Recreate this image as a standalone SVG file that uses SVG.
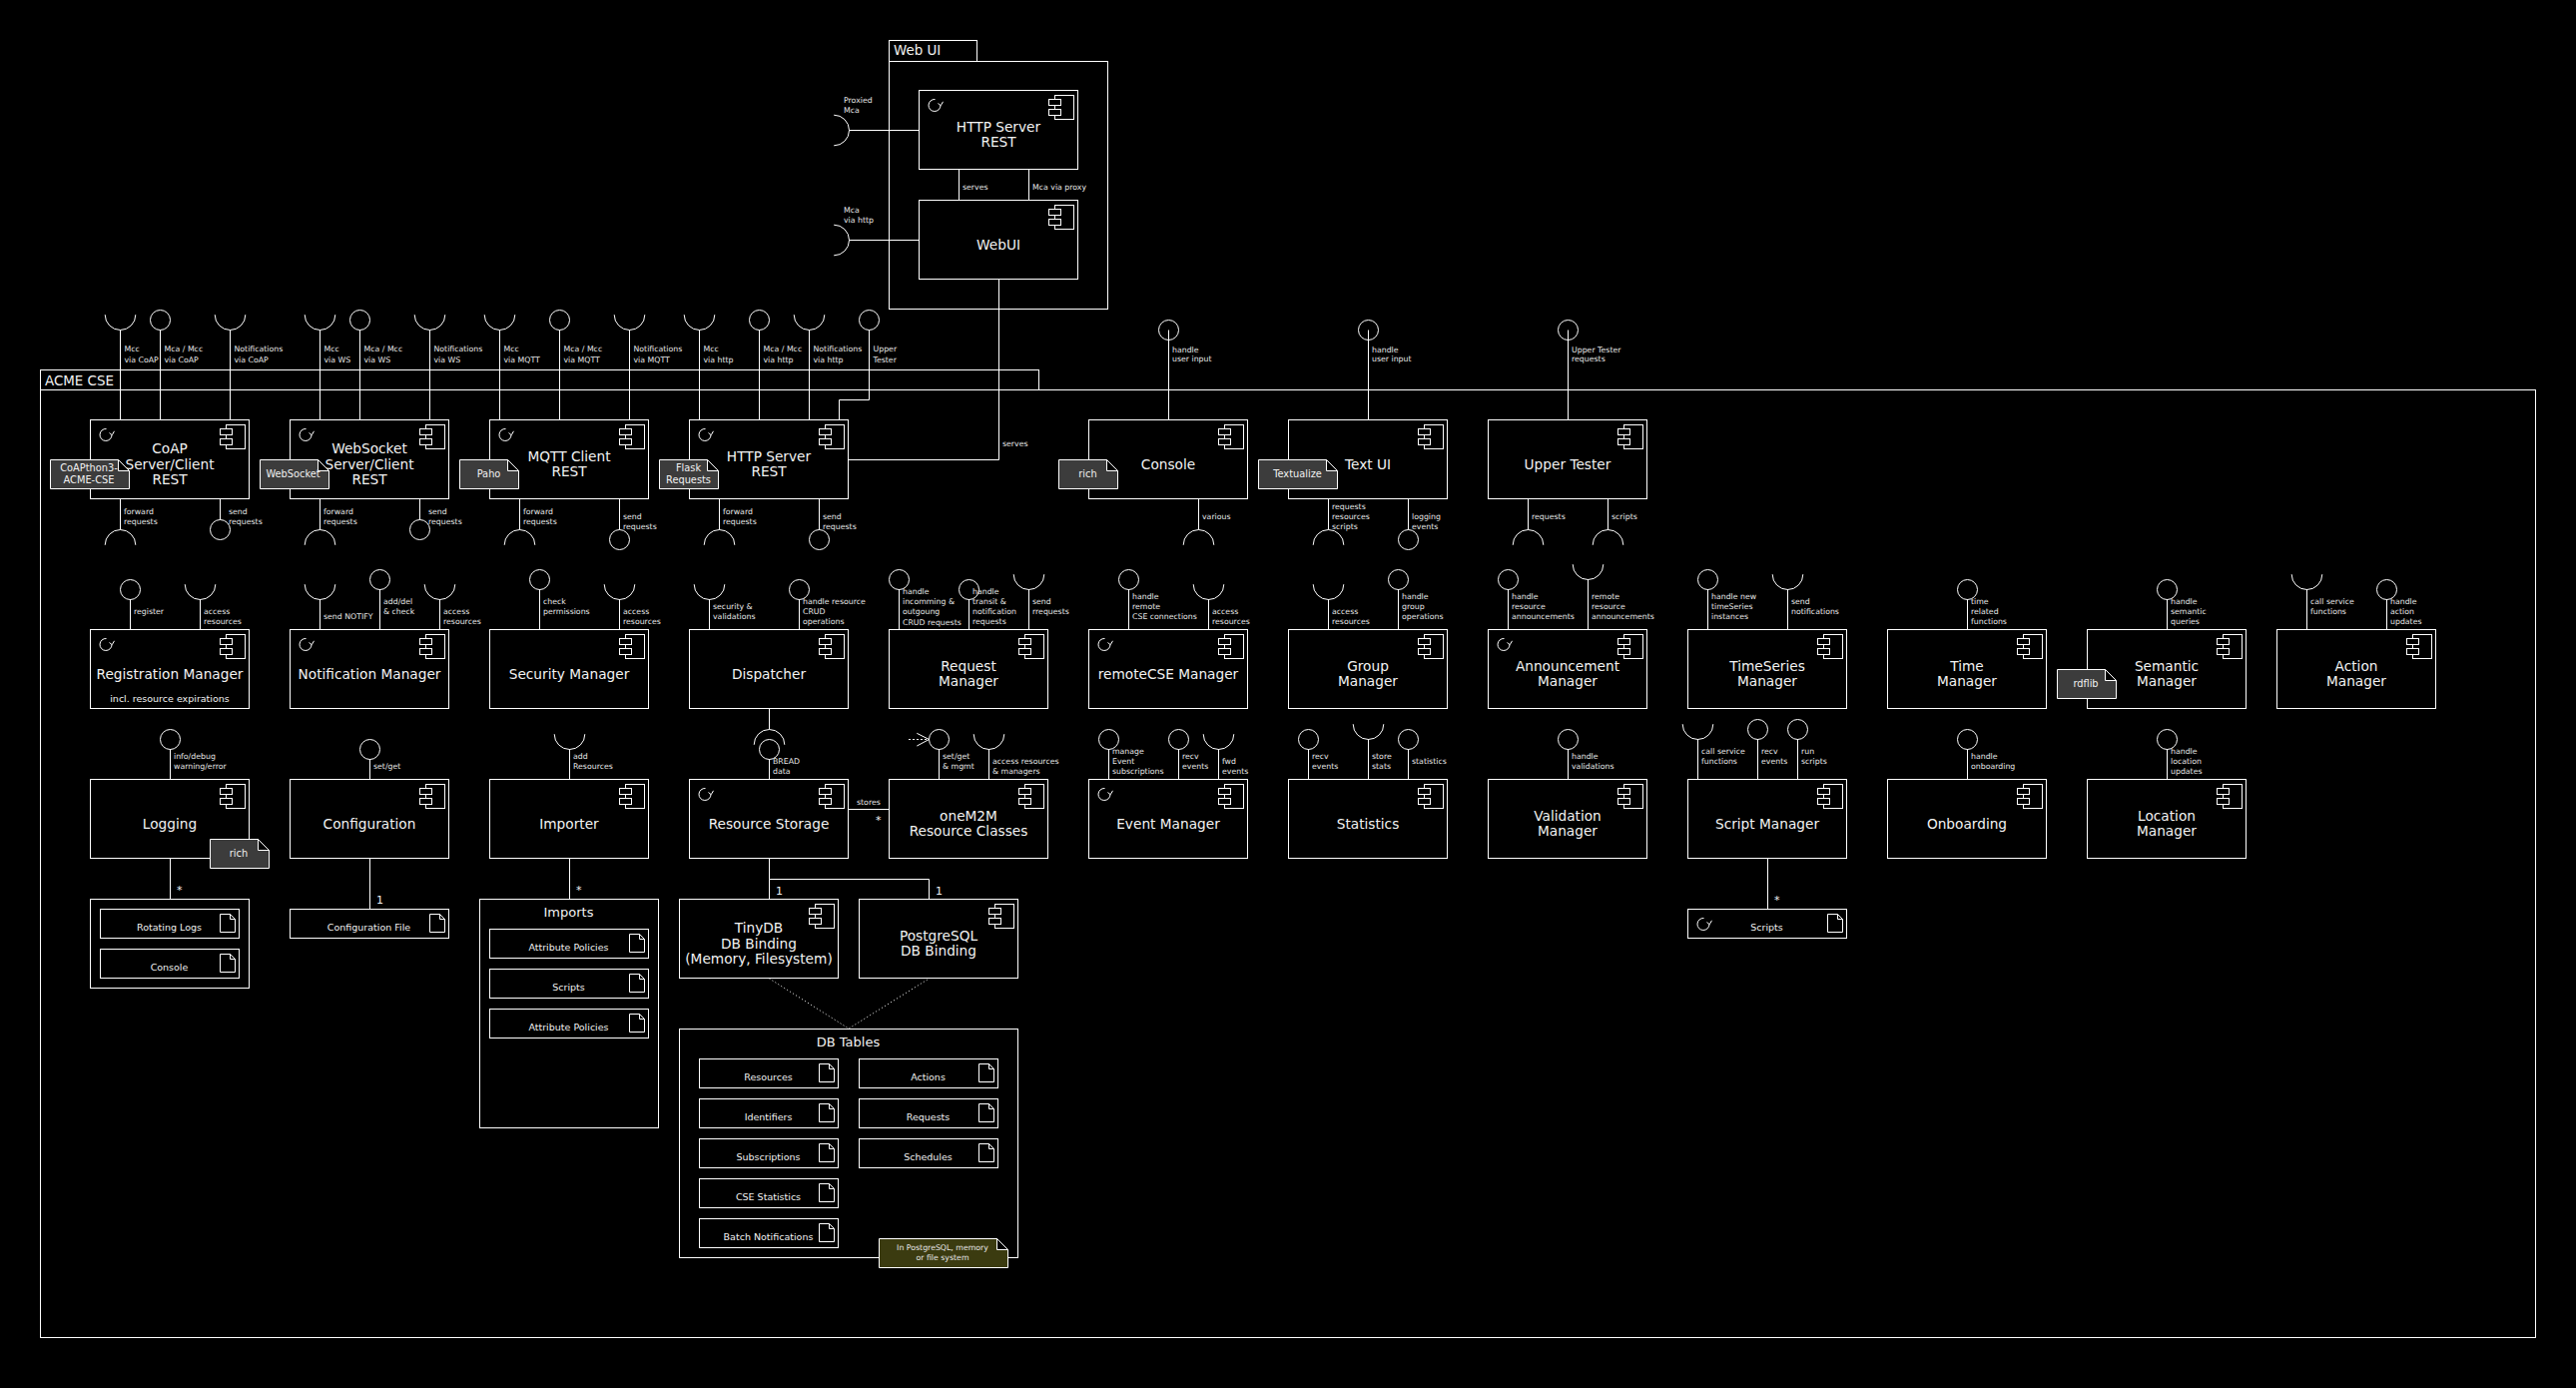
<svg xmlns="http://www.w3.org/2000/svg" width="2580" height="1390" viewBox="0 0 2580 1390">
<style>
text{font-family:"DejaVu Sans","Liberation Sans",sans-serif;fill:#f2f2f2}
.t{font-size:13.7px;text-anchor:middle}
.s{font-size:7.8px;fill:#e6e6e6}
.a{font-size:9.5px;text-anchor:middle}
.n{font-size:9.8px;text-anchor:middle}
.h{font-size:13.4px}
.m{font-size:11px}
.b{fill:#000;stroke:#fff;stroke-width:1}
.f{fill:none;stroke:#fff;stroke-width:1}
.g{fill:#3c3c3c;stroke:#fff;stroke-width:1}
.y{fill:#3b3b10;stroke:#fff;stroke-width:1}
#connectors path,#connectors circle,#connectors use{fill:none;stroke:#fff;stroke-width:1}
</style>
<defs>
<g id="ci"><rect class="b" x="136.5" y="5.5" width="19" height="24"/><rect class="b" x="130.5" y="9.5" width="12" height="6"/><rect class="b" x="130.5" y="19.5" width="12" height="6"/></g>
<g id="lp"><path class="f" d="M16.5 9.5A6 6 0 1 0 22 15.5M19.5 13.5L22.2 15.7L24.5 11.8"/></g>
<g id="doc"><path class="b" d="M120.5 5.5H130.5L135.5 10.5V23.5H120.5ZM130.5 5.5V10.5H135.5"/></g>
<path id="fold" class="b" d="M-11 0V11H0Z"/>
<path id="cup" d="M-15.3 -15.3A15.3 15.3 0 0 0 15.3 -15.3"/>
<path id="cap" d="M-15.3 15.3A15.3 15.3 0 0 1 15.3 15.3"/>
<path id="side" d="M-15.3 -15.3A15.3 15.3 0 0 1 -15.3 15.3"/>
</defs>
<rect width="2580" height="1390" fill="#000"/>
<g id="web-ui-package">
<rect class="f" x="890.5" y="40.5" width="88" height="21"/>
<rect class="f" x="890.5" y="61.5" width="219" height="248"/>
<text class="h" x="895" y="55">Web UI</text>
</g>
<g id="acme-cse-package">
<rect class="f" x="40.5" y="370.5" width="1000" height="20"/>
<rect class="f" x="40.5" y="390.5" width="2499" height="949"/>
<text class="h" x="45" y="386">ACME CSE</text>
</g>
<g id="connectors">
<path d="M850.5 130.5H920M850.5 240.5H920M960.5 170V200M1030.5 170V200M1000.5 280V460.5H850"/>
<use href="#side" x="850.5" y="130.5"/><use href="#side" x="850.5" y="240.5"/>
<path d="M120.5 330.5V420M160.5 330.5V420M230.5 330.5V420M320.5 330.5V420M360.5 330.5V420M430.5 330.5V420M500.5 330.5V420M560.5 330.5V420M630.5 330.5V420M700.5 330.5V420M760.5 330.5V420M810.5 330.5V420M870.5 330.5V400.5H840.5V420M1170.5 330.5V420M1370.5 330.5V420M1570.5 330.5V420"/>
<use href="#cup" x="120.5" y="330.5"/><circle cx="160.5" cy="320.5" r="10"/><use href="#cup" x="230.5" y="330.5"/>
<use href="#cup" x="320.5" y="330.5"/><circle cx="360.5" cy="320.5" r="10"/><use href="#cup" x="430.5" y="330.5"/>
<use href="#cup" x="500.5" y="330.5"/><circle cx="560.5" cy="320.5" r="10"/><use href="#cup" x="630.5" y="330.5"/>
<use href="#cup" x="700.5" y="330.5"/><circle cx="760.5" cy="320.5" r="10"/><use href="#cup" x="810.5" y="330.5"/><circle cx="870.5" cy="320.5" r="10"/>
<circle cx="1170.5" cy="330.5" r="10"/><circle cx="1370.5" cy="330.5" r="10"/><circle cx="1570.5" cy="330.5" r="10"/>
<path d="M120.5 500V530.5M220.5 500V520.5M320.5 500V530.5M420.5 500V520.5M520.5 500V530.5M620.5 500V530.5M720.5 500V530.5M820.5 500V530.5M1200.5 500V530.5M1330.5 500V530.5M1410.5 500V530.5M1530.5 500V530.5M1610.5 500V530.5"/>
<use href="#cap" x="120.5" y="530.5"/><circle cx="220.5" cy="530.5" r="10"/>
<use href="#cap" x="320.5" y="530.5"/><circle cx="420.5" cy="530.5" r="10"/>
<use href="#cap" x="520.5" y="530.5"/><circle cx="620.5" cy="540.5" r="10"/>
<use href="#cap" x="720.5" y="530.5"/><circle cx="820.5" cy="540.5" r="10"/>
<use href="#cap" x="1200.5" y="530.5"/><use href="#cap" x="1330.5" y="530.5"/><circle cx="1410.5" cy="540.5" r="10"/>
<use href="#cap" x="1530.5" y="530.5"/><use href="#cap" x="1610.5" y="530.5"/>
<path d="M130.5 600V630M200.5 600V630M320.5 600V630M380.5 590V630M440.5 600V630M540.5 590V630M620.5 600V630M710.5 600V630M800.5 600V630M900.5 590V630M970.5 600V630M1030.5 590V630M1130.5 590V630M1210.5 600V630M1330.5 600V630M1400.5 590V630M1510.5 590V630M1590.5 580V630M1710.5 590V630M1790.5 590V630M1970.5 600V630M2170.5 600V630M2310.5 590V630M2390.5 600V630"/>
<circle cx="130.5" cy="590.5" r="10"/><use href="#cup" x="200.5" y="600.5"/>
<use href="#cup" x="320.5" y="600.5"/><circle cx="380.5" cy="580.5" r="10"/><use href="#cup" x="440.5" y="600.5"/>
<circle cx="540.5" cy="580.5" r="10"/><use href="#cup" x="620.5" y="600.5"/>
<use href="#cup" x="710.5" y="600.5"/><circle cx="800.5" cy="590.5" r="10"/>
<circle cx="900.5" cy="580.5" r="10"/><circle cx="970.5" cy="590.5" r="10"/><use href="#cup" x="1030.5" y="590.5"/>
<circle cx="1130.5" cy="580.5" r="10"/><use href="#cup" x="1210.5" y="600.5"/>
<use href="#cup" x="1330.5" y="600.5"/><circle cx="1400.5" cy="580.5" r="10"/>
<circle cx="1510.5" cy="580.5" r="10"/><use href="#cup" x="1590.5" y="580.5"/>
<circle cx="1710.5" cy="580.5" r="10"/><use href="#cup" x="1790.5" y="590.5"/>
<circle cx="1970.5" cy="590.5" r="10"/><circle cx="2170.5" cy="590.5" r="10"/>
<use href="#cup" x="2310.5" y="590.5"/><circle cx="2390.5" cy="590.5" r="10"/>
<path d="M770.5 710V730.5M770.5 760V780M850 810.5H890"/>
<use href="#cap" x="770.5" y="730.5"/><circle cx="770.5" cy="750.5" r="10"/>
<path d="M170.5 750V780M370.5 760V780M570.5 750V780M940.5 750V780M990.5 750V780M1110.5 750V780M1180.5 750V780M1220.5 750V780M1310.5 750V780M1370.5 740V780M1410.5 750V780M1570.5 750V780M1700.5 740V780M1760.5 740V780M1800.5 740V780M1970.5 750V780M2170.5 750V780"/>
<circle cx="170.5" cy="740.5" r="10"/><circle cx="370.5" cy="750.5" r="10"/><use href="#cup" x="570.5" y="750.5"/>
<circle cx="940.5" cy="740.5" r="10"/><use href="#cup" x="990.5" y="750.5"/>
<path d="M910 740.5H930" stroke-dasharray="2 2"/><path d="M918.3 734.3L930.5 740.5L918.3 747"/>
<circle cx="1110.5" cy="740.5" r="10"/><circle cx="1180.5" cy="740.5" r="10"/><use href="#cup" x="1220.5" y="750.5"/>
<circle cx="1310.5" cy="740.5" r="10"/><use href="#cup" x="1370.5" y="740.5"/><circle cx="1410.5" cy="740.5" r="10"/>
<circle cx="1570.5" cy="740.5" r="10"/>
<use href="#cup" x="1700.5" y="740.5"/><circle cx="1760.5" cy="730.5" r="10"/><circle cx="1800.5" cy="730.5" r="10"/>
<circle cx="1970.5" cy="740.5" r="10"/><circle cx="2170.5" cy="740.5" r="10"/>
<path d="M170.5 860V900M370.5 860V910M570.5 860V900M1770.5 860V910M770.5 860V880.5M770.5 900V880.5H930.5V900"/>
<path d="M770.5 980L850 1030L930.5 980" stroke-dasharray="1 2.5"/>
</g>
<g id="connector-labels">
<text class="s" x="845" y="102.5">Proxied<tspan x="845" y="113">Mca</tspan></text>
<text class="s" x="845" y="212.5">Mca<tspan x="845" y="223">via http</tspan></text>
<text class="s" x="964" y="190">serves</text>
<text class="s" x="1034" y="190">Mca via proxy</text>
<text class="s" x="1004" y="447">serves</text>
<text class="s" x="124.5" y="352">Mcc<tspan x="124.5" y="362.5">via CoAP</tspan></text>
<text class="s" x="164.5" y="352">Mca / Mcc<tspan x="164.5" y="362.5">via CoAP</tspan></text>
<text class="s" x="234.5" y="352">Notifications<tspan x="234.5" y="362.5">via CoAP</tspan></text>
<text class="s" x="324.5" y="352">Mcc<tspan x="324.5" y="362.5">via WS</tspan></text>
<text class="s" x="364.5" y="352">Mca / Mcc<tspan x="364.5" y="362.5">via WS</tspan></text>
<text class="s" x="434.5" y="352">Notifications<tspan x="434.5" y="362.5">via WS</tspan></text>
<text class="s" x="504.5" y="352">Mcc<tspan x="504.5" y="362.5">via MQTT</tspan></text>
<text class="s" x="564.5" y="352">Mca / Mcc<tspan x="564.5" y="362.5">via MQTT</tspan></text>
<text class="s" x="634.5" y="352">Notifications<tspan x="634.5" y="362.5">via MQTT</tspan></text>
<text class="s" x="704.5" y="352">Mcc<tspan x="704.5" y="362.5">via http</tspan></text>
<text class="s" x="764.5" y="352">Mca / Mcc<tspan x="764.5" y="362.5">via http</tspan></text>
<text class="s" x="814.5" y="352">Notifications<tspan x="814.5" y="362.5">via http</tspan></text>
<text class="s" x="874.5" y="352">Upper<tspan x="874.5" y="362.5">Tester</tspan></text>
<text class="s" x="1174" y="353">handle<tspan x="1174" y="361.5">user input</tspan></text>
<text class="s" x="1374" y="353">handle<tspan x="1374" y="361.5">user input</tspan></text>
<text class="s" x="1574" y="353">Upper Tester<tspan x="1574" y="361.5">requests</tspan></text>
<text class="s" x="124" y="515">forward<tspan x="124" y="525">requests</tspan></text>
<text class="s" x="229" y="515">send<tspan x="229" y="525">requests</tspan></text>
<text class="s" x="324" y="515">forward<tspan x="324" y="525">requests</tspan></text>
<text class="s" x="429" y="515">send<tspan x="429" y="525">requests</tspan></text>
<text class="s" x="524" y="515">forward<tspan x="524" y="525">requests</tspan></text>
<text class="s" x="624" y="520">send<tspan x="624" y="530">requests</tspan></text>
<text class="s" x="724" y="515">forward<tspan x="724" y="525">requests</tspan></text>
<text class="s" x="824" y="520">send<tspan x="824" y="530">requests</tspan></text>
<text class="s" x="1204" y="520">various</text>
<text class="s" x="1334" y="510">requests<tspan x="1334" y="520">resources</tspan><tspan x="1334" y="530">scripts</tspan></text>
<text class="s" x="1414" y="520">logging<tspan x="1414" y="530">events</tspan></text>
<text class="s" x="1534" y="520">requests</text>
<text class="s" x="1614" y="520">scripts</text>
<text class="s" x="134" y="615">register</text>
<text class="s" x="204" y="615">access<tspan x="204" y="625">resources</tspan></text>
<text class="s" x="324" y="620">send NOTIFY</text>
<text class="s" x="384" y="605">add/del<tspan x="384" y="615">&amp; check</tspan></text>
<text class="s" x="444" y="615">access<tspan x="444" y="625">resources</tspan></text>
<text class="s" x="544" y="605">check<tspan x="544" y="615">permissions</tspan></text>
<text class="s" x="624" y="615">access<tspan x="624" y="625">resources</tspan></text>
<text class="s" x="714" y="610">security &amp;<tspan x="714" y="620">validations</tspan></text>
<text class="s" x="804" y="605">handle resource<tspan x="804" y="615">CRUD</tspan><tspan x="804" y="625">operations</tspan></text>
<text class="s" x="904" y="595">handle<tspan x="904" y="605">incomming &amp;</tspan><tspan x="904" y="615">outgoung</tspan><tspan x="904" y="625.5">CRUD requests</tspan></text>
<text class="s" x="974" y="595">handle<tspan x="974" y="605">transit &amp;</tspan><tspan x="974" y="615">notification</tspan><tspan x="974" y="625">requests</tspan></text>
<text class="s" x="1034" y="605">send<tspan x="1034" y="615">rrequests</tspan></text>
<text class="s" x="1134" y="600">handle<tspan x="1134" y="610">remote</tspan><tspan x="1134" y="620">CSE connections</tspan></text>
<text class="s" x="1214" y="615">access<tspan x="1214" y="625">resources</tspan></text>
<text class="s" x="1334" y="615">access<tspan x="1334" y="625">resources</tspan></text>
<text class="s" x="1404" y="600">handle<tspan x="1404" y="610">group</tspan><tspan x="1404" y="620">operations</tspan></text>
<text class="s" x="1514" y="600">handle<tspan x="1514" y="610">resource</tspan><tspan x="1514" y="620">announcements</tspan></text>
<text class="s" x="1594" y="600">remote<tspan x="1594" y="610">resource</tspan><tspan x="1594" y="620">announcements</tspan></text>
<text class="s" x="1714" y="600">handle new<tspan x="1714" y="610">timeSeries</tspan><tspan x="1714" y="620">instances</tspan></text>
<text class="s" x="1794" y="605">send<tspan x="1794" y="615">notifications</tspan></text>
<text class="s" x="1974" y="605">time<tspan x="1974" y="615">related</tspan><tspan x="1974" y="625">functions</tspan></text>
<text class="s" x="2174" y="605">handle<tspan x="2174" y="615">semantic</tspan><tspan x="2174" y="625">queries</tspan></text>
<text class="s" x="2314" y="605">call service<tspan x="2314" y="615">functions</tspan></text>
<text class="s" x="2394" y="605">handle<tspan x="2394" y="615">action</tspan><tspan x="2394" y="625">updates</tspan></text>
<text class="s" x="174" y="760">info/debug<tspan x="174" y="770">warning/error</tspan></text>
<text class="s" x="374" y="770">set/get</text>
<text class="s" x="574" y="760">add<tspan x="574" y="770">Resources</tspan></text>
<text class="s" x="774" y="765">BREAD<tspan x="774" y="775">data</tspan></text>
<text class="s" x="858" y="806">stores</text>
<text class="m" x="877" y="825">*</text>
<text class="s" x="944" y="760">set/get<tspan x="944" y="770">&amp; mgmt</tspan></text>
<text class="s" x="994" y="765">access resources<tspan x="994" y="775">&amp; managers</tspan></text>
<text class="s" x="1114" y="755">manage<tspan x="1114" y="765">Event</tspan><tspan x="1114" y="775">subscriptions</tspan></text>
<text class="s" x="1184" y="760">recv<tspan x="1184" y="770">events</tspan></text>
<text class="s" x="1224" y="765">fwd<tspan x="1224" y="775">events</tspan></text>
<text class="s" x="1314" y="760">recv<tspan x="1314" y="770">events</tspan></text>
<text class="s" x="1374" y="760">store<tspan x="1374" y="770">stats</tspan></text>
<text class="s" x="1414" y="765">statistics</text>
<text class="s" x="1574" y="760">handle<tspan x="1574" y="770">validations</tspan></text>
<text class="s" x="1704" y="755">call service<tspan x="1704" y="765">functions</tspan></text>
<text class="s" x="1764" y="755">recv<tspan x="1764" y="765">events</tspan></text>
<text class="s" x="1804" y="755">run<tspan x="1804" y="765">scripts</tspan></text>
<text class="s" x="1974" y="760">handle<tspan x="1974" y="770">onboarding</tspan></text>
<text class="s" x="2174" y="755">handle<tspan x="2174" y="765">location</tspan><tspan x="2174" y="775">updates</tspan></text>
<text class="m" x="177" y="895">*</text>
<text class="m" x="377" y="905">1</text>
<text class="m" x="577" y="895">*</text>
<text class="m" x="1777" y="905">*</text>
<text class="m" x="777" y="896">1</text>
<text class="m" x="937" y="896">1</text>
</g>
<g id="http-server-web"><rect class="b" x="920.5" y="90.5" width="159" height="79"/><use href="#ci" x="920" y="90"/><use href="#lp" x="920" y="90"/><text class="t" x="1000" y="132">HTTP Server<tspan x="1000" y="147">REST</tspan></text></g>
<g id="webui"><rect class="b" x="920.5" y="200.5" width="159" height="79"/><use href="#ci" x="920" y="200"/><text class="t" x="1000" y="250">WebUI</text></g>
<g id="coap"><rect class="b" x="90.5" y="420.5" width="159" height="79"/><use href="#ci" x="90" y="420"/><use href="#lp" x="90" y="420"/><text class="t" x="170" y="454">CoAP<tspan x="170" y="470">Server/Client</tspan><tspan x="170" y="485">REST</tspan></text><polygon class="g" points="50.5,460.5 118.5,460.5 129.5,471.5 129.5,489.5 50.5,489.5"/><use href="#fold" x="129.5" y="460.5"/><text class="n" x="89" y="472">CoAPthon3-<tspan x="89" y="484">ACME-CSE</tspan></text></g>
<g id="websocket"><rect class="b" x="290.5" y="420.5" width="159" height="79"/><use href="#ci" x="290" y="420"/><use href="#lp" x="290" y="420"/><text class="t" x="370" y="454">WebSocket<tspan x="370" y="470">Server/Client</tspan><tspan x="370" y="485">REST</tspan></text><polygon class="g" points="260.5,460.5 318.5,460.5 329.5,471.5 329.5,489.5 260.5,489.5"/><use href="#fold" x="329.5" y="460.5"/><text class="n" x="293.5" y="478">WebSocket</text></g>
<g id="mqtt"><rect class="b" x="490.5" y="420.5" width="159" height="79"/><use href="#ci" x="490" y="420"/><use href="#lp" x="490" y="420"/><text class="t" x="570" y="462">MQTT Client<tspan x="570" y="477">REST</tspan></text><polygon class="g" points="460.5,460.5 508.5,460.5 519.5,471.5 519.5,489.5 460.5,489.5"/><use href="#fold" x="519.5" y="460.5"/><text class="n" x="489.5" y="478">Paho</text></g>
<g id="http-server"><rect class="b" x="690.5" y="420.5" width="159" height="79"/><use href="#ci" x="690" y="420"/><use href="#lp" x="690" y="420"/><text class="t" x="770" y="462">HTTP Server<tspan x="770" y="477">REST</tspan></text><polygon class="g" points="660.5,460.5 708.5,460.5 719.5,471.5 719.5,489.5 660.5,489.5"/><use href="#fold" x="719.5" y="460.5"/><text class="n" x="689.5" y="472">Flask<tspan x="689.5" y="484">Requests</tspan></text></g>
<g id="console"><rect class="b" x="1090.5" y="420.5" width="159" height="79"/><use href="#ci" x="1090" y="420"/><text class="t" x="1170" y="470">Console</text><polygon class="g" points="1060.5,460.5 1108.5,460.5 1119.5,471.5 1119.5,489.5 1060.5,489.5"/><use href="#fold" x="1119.5" y="460.5"/><text class="n" x="1089.5" y="478">rich</text></g>
<g id="text-ui"><rect class="b" x="1290.5" y="420.5" width="159" height="79"/><use href="#ci" x="1290" y="420"/><text class="t" x="1370" y="470">Text UI</text><polygon class="g" points="1260.5,460.5 1328.5,460.5 1339.5,471.5 1339.5,489.5 1260.5,489.5"/><use href="#fold" x="1339.5" y="460.5"/><text class="n" x="1299.5" y="478">Textualize</text></g>
<g id="upper-tester"><rect class="b" x="1490.5" y="420.5" width="159" height="79"/><use href="#ci" x="1490" y="420"/><text class="t" x="1570" y="470">Upper Tester</text></g>
<g id="registration-manager"><rect class="b" x="90.5" y="630.5" width="159" height="79"/><use href="#ci" x="90" y="630"/><use href="#lp" x="90" y="630"/><text class="t" x="170" y="680">Registration Manager</text><text class="a" x="170" y="703">incl. resource expirations</text></g>
<g id="notification-manager"><rect class="b" x="290.5" y="630.5" width="159" height="79"/><use href="#ci" x="290" y="630"/><use href="#lp" x="290" y="630"/><text class="t" x="370" y="680">Notification Manager</text></g>
<g id="security-manager"><rect class="b" x="490.5" y="630.5" width="159" height="79"/><use href="#ci" x="490" y="630"/><text class="t" x="570" y="680">Security Manager</text></g>
<g id="dispatcher"><rect class="b" x="690.5" y="630.5" width="159" height="79"/><use href="#ci" x="690" y="630"/><text class="t" x="770" y="680">Dispatcher</text></g>
<g id="request-manager"><rect class="b" x="890.5" y="630.5" width="159" height="79"/><use href="#ci" x="890" y="630"/><text class="t" x="970" y="672">Request<tspan x="970" y="687">Manager</tspan></text></g>
<g id="remotecse-manager"><rect class="b" x="1090.5" y="630.5" width="159" height="79"/><use href="#ci" x="1090" y="630"/><use href="#lp" x="1090" y="630"/><text class="t" x="1170" y="680">remoteCSE Manager</text></g>
<g id="group-manager"><rect class="b" x="1290.5" y="630.5" width="159" height="79"/><use href="#ci" x="1290" y="630"/><text class="t" x="1370" y="672">Group<tspan x="1370" y="687">Manager</tspan></text></g>
<g id="announcement-manager"><rect class="b" x="1490.5" y="630.5" width="159" height="79"/><use href="#ci" x="1490" y="630"/><use href="#lp" x="1490" y="630"/><text class="t" x="1570" y="672">Announcement<tspan x="1570" y="687">Manager</tspan></text></g>
<g id="timeseries-manager"><rect class="b" x="1690.5" y="630.5" width="159" height="79"/><use href="#ci" x="1690" y="630"/><text class="t" x="1770" y="672">TimeSeries<tspan x="1770" y="687">Manager</tspan></text></g>
<g id="time-manager"><rect class="b" x="1890.5" y="630.5" width="159" height="79"/><use href="#ci" x="1890" y="630"/><text class="t" x="1970" y="672">Time<tspan x="1970" y="687">Manager</tspan></text></g>
<g id="semantic-manager"><rect class="b" x="2090.5" y="630.5" width="159" height="79"/><use href="#ci" x="2090" y="630"/><text class="t" x="2170" y="672">Semantic<tspan x="2170" y="687">Manager</tspan></text><polygon class="g" points="2060.5,670.5 2108.5,670.5 2119.5,681.5 2119.5,699.5 2060.5,699.5"/><use href="#fold" x="2119.5" y="670.5"/><text class="n" x="2089" y="688">rdflib</text></g>
<g id="action-manager"><rect class="b" x="2280.5" y="630.5" width="159" height="79"/><use href="#ci" x="2280" y="630"/><text class="t" x="2360" y="672">Action<tspan x="2360" y="687">Manager</tspan></text></g>
<g id="logging"><rect class="b" x="90.5" y="780.5" width="159" height="79"/><use href="#ci" x="90" y="780"/><text class="t" x="170" y="830">Logging</text><polygon class="g" points="210.5,840.5 258.5,840.5 269.5,851.5 269.5,869.5 210.5,869.5"/><use href="#fold" x="269.5" y="840.5"/><text class="n" x="239" y="858">rich</text></g>
<g id="configuration"><rect class="b" x="290.5" y="780.5" width="159" height="79"/><use href="#ci" x="290" y="780"/><text class="t" x="370" y="830">Configuration</text></g>
<g id="importer"><rect class="b" x="490.5" y="780.5" width="159" height="79"/><use href="#ci" x="490" y="780"/><text class="t" x="570" y="830">Importer</text></g>
<g id="resource-storage"><rect class="b" x="690.5" y="780.5" width="159" height="79"/><use href="#ci" x="690" y="780"/><use href="#lp" x="690" y="780"/><text class="t" x="770" y="830">Resource Storage</text></g>
<g id="onem2m"><rect class="b" x="890.5" y="780.5" width="159" height="79"/><use href="#ci" x="890" y="780"/><text class="t" x="970" y="822">oneM2M<tspan x="970" y="837">Resource Classes</tspan></text></g>
<g id="event-manager"><rect class="b" x="1090.5" y="780.5" width="159" height="79"/><use href="#ci" x="1090" y="780"/><use href="#lp" x="1090" y="780"/><text class="t" x="1170" y="830">Event Manager</text></g>
<g id="statistics"><rect class="b" x="1290.5" y="780.5" width="159" height="79"/><use href="#ci" x="1290" y="780"/><text class="t" x="1370" y="830">Statistics</text></g>
<g id="validation-manager"><rect class="b" x="1490.5" y="780.5" width="159" height="79"/><use href="#ci" x="1490" y="780"/><text class="t" x="1570" y="822">Validation<tspan x="1570" y="837">Manager</tspan></text></g>
<g id="script-manager"><rect class="b" x="1690.5" y="780.5" width="159" height="79"/><use href="#ci" x="1690" y="780"/><text class="t" x="1770" y="830">Script Manager</text></g>
<g id="onboarding"><rect class="b" x="1890.5" y="780.5" width="159" height="79"/><use href="#ci" x="1890" y="780"/><text class="t" x="1970" y="830">Onboarding</text></g>
<g id="location-manager"><rect class="b" x="2090.5" y="780.5" width="159" height="79"/><use href="#ci" x="2090" y="780"/><text class="t" x="2170" y="822">Location<tspan x="2170" y="837">Manager</tspan></text></g>
<g id="log-files"><rect class="b" x="90.5" y="900.5" width="159" height="89"/>
<rect class="b" x="100.5" y="910.5" width="139" height="29"/><use href="#doc" x="100" y="910"/><text class="a" x="169.5" y="931.5">Rotating Logs</text>
<rect class="b" x="100.5" y="950.5" width="139" height="29"/><use href="#doc" x="100" y="950"/><text class="a" x="169.5" y="971.5">Console</text></g>
<g id="configuration-file"><rect class="b" x="290.5" y="910.5" width="159" height="29"/><use href="#doc" x="310" y="910"/><text class="a" x="369.5" y="931.5">Configuration File</text></g>
<g id="imports"><rect class="b" x="480.5" y="900.5" width="179" height="229"/><text class="t" style="font-size:13px" x="569.5" y="918">Imports</text>
<rect class="b" x="490.5" y="930.5" width="159" height="29"/><use href="#doc" x="510" y="930"/><text class="a" x="569.5" y="951.5">Attribute Policies</text>
<rect class="b" x="490.5" y="970.5" width="159" height="29"/><use href="#doc" x="510" y="970"/><text class="a" x="569.5" y="991.5">Scripts</text>
<rect class="b" x="490.5" y="1010.5" width="159" height="29"/><use href="#doc" x="510" y="1010"/><text class="a" x="569.5" y="1031.5">Attribute Policies</text></g>
<g id="tinydb"><rect class="b" x="680.5" y="900.5" width="159" height="79"/><use href="#ci" x="680" y="900"/><text class="t" x="760" y="934">TinyDB<tspan x="760" y="950">DB Binding</tspan><tspan x="760" y="965">(Memory, Filesystem)</tspan></text></g>
<g id="postgresql"><rect class="b" x="860.5" y="900.5" width="159" height="79"/><use href="#ci" x="860" y="900"/><text class="t" x="940" y="942">PostgreSQL<tspan x="940" y="957">DB Binding</tspan></text></g>
<g id="db-tables"><rect class="b" x="680.5" y="1030.5" width="339" height="229"/><text class="t" style="font-size:13px" x="849.5" y="1048">DB Tables</text>
<rect class="b" x="700.5" y="1060.5" width="139" height="29"/><use href="#doc" x="700" y="1060"/><text class="a" x="769.5" y="1081.5">Resources</text>
<rect class="b" x="700.5" y="1100.5" width="139" height="29"/><use href="#doc" x="700" y="1100"/><text class="a" x="769.5" y="1121.5">Identifiers</text>
<rect class="b" x="700.5" y="1140.5" width="139" height="29"/><use href="#doc" x="700" y="1140"/><text class="a" x="769.5" y="1161.5">Subscriptions</text>
<rect class="b" x="700.5" y="1180.5" width="139" height="29"/><use href="#doc" x="700" y="1180"/><text class="a" x="769.5" y="1201.5">CSE Statistics</text>
<rect class="b" x="700.5" y="1220.5" width="139" height="29"/><use href="#doc" x="700" y="1220"/><text class="a" x="769.5" y="1241.5">Batch Notifications</text>
<rect class="b" x="860.5" y="1060.5" width="139" height="29"/><use href="#doc" x="860" y="1060"/><text class="a" x="929.5" y="1081.5">Actions</text>
<rect class="b" x="860.5" y="1100.5" width="139" height="29"/><use href="#doc" x="860" y="1100"/><text class="a" x="929.5" y="1121.5">Requests</text>
<rect class="b" x="860.5" y="1140.5" width="139" height="29"/><use href="#doc" x="860" y="1140"/><text class="a" x="929.5" y="1161.5">Schedules</text>
<polygon class="y" points="880.5,1240.5 998.5,1240.5 1009.5,1251.5 1009.5,1269.5 880.5,1269.5"/><use href="#fold" x="1009.5" y="1240.5"/><text class="s" text-anchor="middle" x="944" y="1252">In PostgreSQL, memory<tspan x="944" y="1262">or file system</tspan></text></g>
<g id="scripts"><rect class="b" x="1690.5" y="910.5" width="159" height="29"/><use href="#lp" x="1690" y="910"/><use href="#doc" x="1710" y="910"/><text class="a" x="1769.5" y="931.5">Scripts</text></g>
</svg>
